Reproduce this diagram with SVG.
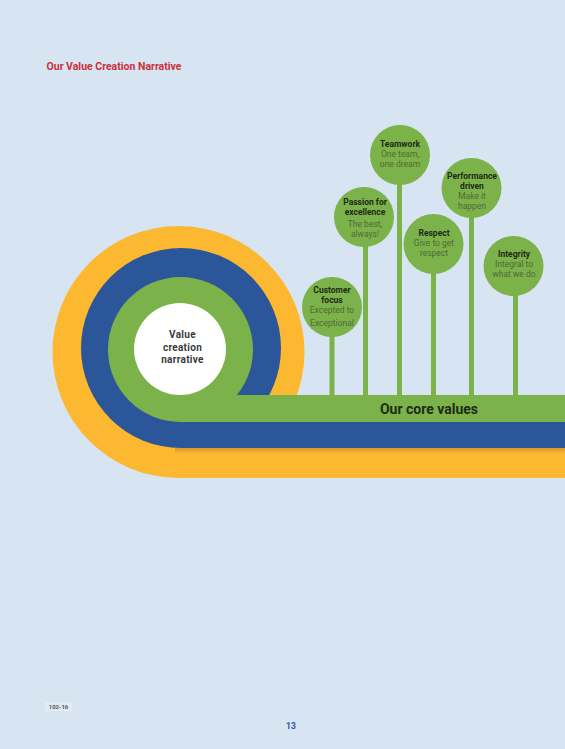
<svg xmlns="http://www.w3.org/2000/svg" width="565" height="749" viewBox="0 0 565 749">
<style>
.t{font-family:Roboto,"Liberation Sans",sans-serif;font-weight:bold;fill:#1f2b18;font-size:8.5px;text-anchor:middle}
.s{font-family:Roboto,"Liberation Sans",sans-serif;fill:#4f6b3a;font-size:8.5px;text-anchor:middle}
.c{font-family:Roboto,"Liberation Sans",sans-serif;font-weight:bold;fill:#3a3a3a;font-size:10px;text-anchor:middle;letter-spacing:0.3px}
.node{fill:#7bb249}
.stem{stroke:#7bb249;stroke-width:5;fill:none}
</style>
<defs>
<linearGradient id="sh" x1="0" y1="0" x2="0" y2="1">
<stop offset="0" stop-color="#d8952a"/>
<stop offset="1" stop-color="#fcb830"/>
</linearGradient>
</defs>
<rect width="565" height="749" fill="#d7e4f2"/>
<text x="46.5" y="70" font-family="Roboto,'Liberation Sans',sans-serif" font-weight="bold" font-size="10.3" fill="#cc2f3b" textLength="135" lengthAdjust="spacingAndGlyphs">Our Value Creation Narrative</text>

<g id="spiral">
<circle cx="178.5" cy="352" r="126" fill="#fcb830"/>
<rect x="178" y="448" width="387" height="30" fill="#fcb830"/>
<rect x="175" y="448" width="390" height="6" fill="url(#sh)"/>
<circle cx="181" cy="348" r="100" fill="#2b5699"/>
<rect x="181" y="422" width="384" height="26" fill="#2b5699"/>
<circle cx="180.5" cy="349.5" r="72.5" fill="#7bb249"/>
<rect x="180" y="395" width="385" height="27" fill="#7bb249"/>
</g>

<g id="center">
<circle cx="180" cy="349" r="46" fill="#ffffff"/>
<text class="c" x="182.5" y="338">Value</text>
<text class="c" x="182.5" y="350.5">creation</text>
<text class="c" x="182.5" y="363">narrative</text>
</g>

<g id="connectors">
<line class="stem" x1="332" y1="307" x2="332" y2="397"/>
<line class="stem" x1="365.5" y1="217" x2="365.5" y2="397"/>
<line class="stem" x1="399.5" y1="155" x2="399.5" y2="397"/>
<line class="stem" x1="433.5" y1="244" x2="433.5" y2="397"/>
<line class="stem" x1="471.5" y1="188" x2="471.5" y2="397"/>
<line class="stem" x1="515.5" y1="266" x2="515.5" y2="397"/>
</g>

<g id="core-values">
<text x="429" y="414" font-family="Roboto,'Liberation Sans',sans-serif" font-weight="bold" font-size="14" fill="#1f2b18" text-anchor="middle">Our core values</text>
</g>

<g id="customer-focus">
<circle class="node" cx="332" cy="307" r="30"/>
<text class="t" x="332" y="293">Customer</text>
<text class="t" x="332" y="303">focus</text>
<text class="s" x="332" y="313">Excepted to</text>
<text class="s" x="332" y="326">Exceptional</text>
</g>

<g id="passion">
<circle class="node" cx="364" cy="217" r="30"/>
<text class="t" x="365" y="205">Passion for</text>
<text class="t" x="365" y="215">excellence</text>
<text class="s" x="365" y="227">The best,</text>
<text class="s" x="365" y="237">always!</text>
</g>

<g id="teamwork">
<circle class="node" cx="400" cy="155" r="30"/>
<text class="t" x="400" y="147">Teamwork</text>
<text class="s" x="400" y="157">One team,</text>
<text class="s" x="400" y="167">one dream</text>
</g>

<g id="respect">
<circle class="node" cx="433.5" cy="244" r="30"/>
<text class="t" x="434" y="236">Respect</text>
<text class="s" x="434" y="246">Give to get</text>
<text class="s" x="434" y="256">respect</text>
</g>

<g id="performance">
<circle class="node" cx="471.5" cy="188" r="30"/>
<text class="t" x="472" y="179">Performance</text>
<text class="t" x="472" y="189">driven</text>
<text class="s" x="472" y="199">Make it</text>
<text class="s" x="472" y="209">happen</text>
</g>

<g id="integrity">
<circle class="node" cx="513.5" cy="266" r="30"/>
<text class="t" x="514" y="257">Integrity</text>
<text class="s" x="514" y="267">Integral to</text>
<text class="s" x="514" y="277">what we do</text>
</g>

<rect x="45" y="702" width="27" height="9" fill="#e3eaf4"/>
<text x="58.5" y="709" font-family="Roboto,'Liberation Sans',sans-serif" font-size="6" font-weight="bold" fill="#555555" text-anchor="middle">102-16</text>
<text x="291" y="729" font-family="Roboto,'Liberation Sans',sans-serif" font-size="8.5" font-weight="bold" fill="#2b5699" text-anchor="middle">13</text>
</svg>
